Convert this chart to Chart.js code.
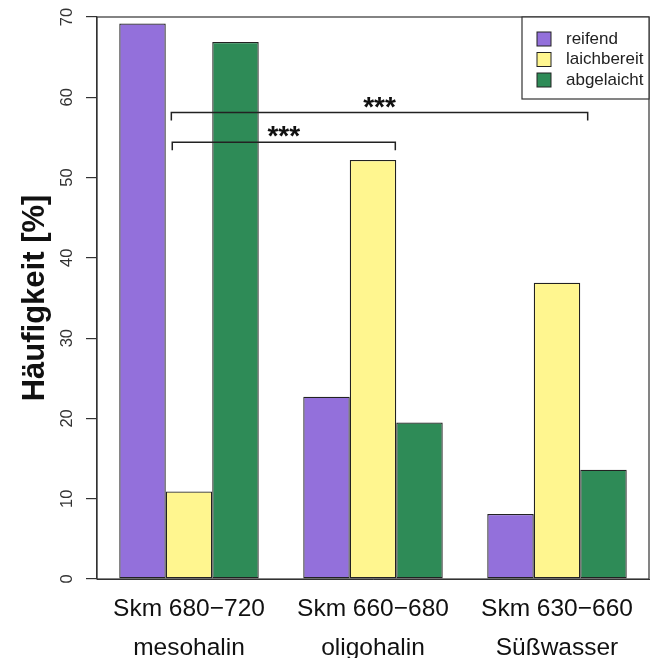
<!DOCTYPE html>
<html><head><meta charset="utf-8">
<script src="https://cdn.jsdelivr.net/npm/chart.js@4/dist/chart.umd.min.js"></script>
<style>html,body{margin:0;padding:0;background:#fff}#wrap{width:657px;height:658px;position:relative}</style>
</head><body><div id="wrap"><canvas id="c"></canvas></div>
<script>
const categories = [['Skm 680\u2212720', 'mesohalin'], ['Skm 660\u2212680', 'oligohalin'], ['Skm 630\u2212660', 'Süßwasser']];
const seriesNames = ['reifend', 'laichbereit', 'abgelaicht'];
const reifend = [69.2, 22.7, 8.1];
const laichbereit = [10.9, 52.2, 36.9];
const abgelaicht = [66.9, 19.5, 13.6];
const yTicks = [0, 10, 20, 30, 40, 50, 60, 70];
const yTitle = 'Häufigkeit [%]';
const brackets = [
  { from: 0, to: 2, value: 58.1, label: '***' },
  { from: 0, to: 1, value: 54.4, label: '***' }
];

const colors = ['#9370DB', '#FFF68F', '#2E8B57'];
const FONT = '"Liberation Sans", Arial, Helvetica, sans-serif';
// bracket end offsets relative to category centre, in bar widths (style)
const bracketEnds = [{ l: -0.38, r: 0.66 }, { l: -0.36, r: 0.48 }];

const overlay = {
  id: 'overlay',
  afterDraw(chart) {
    const { ctx, chartArea: a, scales: { x, y } } = chart;
    ctx.save();
    // frame
    ctx.strokeStyle = '#333'; ctx.lineWidth = 1.2;
    ctx.strokeRect(a.left, a.top, a.right - a.left, a.bottom - a.top);
    // rotated y tick labels
    ctx.fillStyle = '#333';
    ctx.font = '16.5px ' + FONT;
    ctx.textAlign = 'center'; ctx.textBaseline = 'middle';
    y.ticks.forEach(t => {
      const py = y.getPixelForValue(t.value);
      ctx.save(); ctx.translate(a.left - 30, py); ctx.rotate(-Math.PI / 2);
      ctx.fillText(String(t.value), 0, 0); ctx.restore();
    });
    // significance brackets
    const bw = chart.getDatasetMeta(0).data[0].width;
    ctx.strokeStyle = '#222'; ctx.lineWidth = 1.5; ctx.fillStyle = '#111';
    brackets.forEach((b, i) => {
      const x1 = x.getPixelForValue(b.from) + bracketEnds[i].l * bw;
      const x2 = x.getPixelForValue(b.to) + bracketEnds[i].r * bw;
      const py = y.getPixelForValue(b.value);
      ctx.beginPath();
      ctx.moveTo(x1, py + 8); ctx.lineTo(x1, py); ctx.lineTo(x2, py); ctx.lineTo(x2, py + 8);
      ctx.stroke();
      ctx.font = 'bold 28px ' + FONT;
      ctx.textAlign = 'center'; ctx.textBaseline = 'alphabetic';
      ctx.fillText(b.label, (x1 + x2) / 2, py + 3);
    });
    // legend
    const lw = 127, lh = 82;
    const lx = a.right - lw, ly = a.top;
    ctx.lineWidth = 1.2; ctx.strokeStyle = '#333';
    ctx.fillStyle = '#fff';
    ctx.fillRect(lx, ly, lw, lh);
    ctx.strokeRect(lx, ly, lw, lh);
    ctx.font = '17px ' + FONT; ctx.textAlign = 'left'; ctx.textBaseline = 'middle';
    chart.data.datasets.forEach((ds, i) => {
      const cy = ly + 22 + i * 20.5;
      ctx.fillStyle = ds.backgroundColor;
      ctx.fillRect(lx + 15, cy - 7, 14, 14);
      ctx.strokeStyle = '#222'; ctx.lineWidth = 1;
      ctx.strokeRect(lx + 15, cy - 7, 14, 14);
      ctx.fillStyle = '#222';
      ctx.fillText(ds.label, lx + 44, cy);
    });
    ctx.restore();
  }
};

const datasets = [reifend, laichbereit, abgelaicht].map((d, i) => ({
  label: seriesNames[i], data: d, backgroundColor: colors[i],
  borderColor: '#222', borderWidth: 1.3, borderSkipped: false,
  categoryPercentage: 0.758, barPercentage: 1
}));

new Chart(document.getElementById('c'), {
  type: 'bar',
  data: { labels: categories, datasets },
  plugins: [overlay],
  options: {
    responsive: true, maintainAspectRatio: false, animation: false,
    layout: { padding: { top: 17, right: 8, left: 0, bottom: 0 } },
    plugins: { legend: { display: false }, tooltip: { enabled: false } },
    scales: {
      x: {
        grid: { display: false },
        border: { display: true, color: '#333' },
        ticks: { color: '#111', font: { family: FONT, size: 24.5, lineHeight: 1.59 }, padding: 3, maxRotation: 0, minRotation: 0 },
        afterFit(s) { s.height = 79; }
      },
      y: {
        min: 0, max: 70,
        afterBuildTicks(s) { s.ticks = yTicks.map(v => ({ value: v })); },
        ticks: { display: false },
        grid: { display: true, drawOnChartArea: false, drawTicks: true, tickLength: 11, color: '#333', lineWidth: 1.2 },
        border: { display: true, color: '#333', width: 1.2 },
        title: { display: true, text: yTitle, color: '#111', font: { family: FONT, size: 31, weight: 'bold' }, padding: { top: 17, bottom: 0 } },
        afterFit(s) { s.width = 97; }
      }
    }
  }
});
</script>
</body></html>
